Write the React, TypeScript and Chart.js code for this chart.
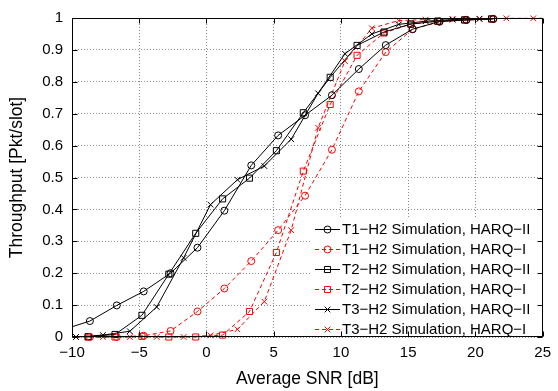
import React, { useEffect, useRef } from 'react';
import { Chart, registerables } from 'chart.js';

Chart.register(...registerables);

// SNR grids (dB)
const snrA = [-10.67, -8.67, -6.67, -4.67, -2.67, -0.67, 1.33, 3.33, 5.33, 7.33, 9.33, 11.33, 13.33, 15.33, 17.33, 19.33, 21.33];
const snrA2 = [-8.67, -6.67, -4.67, -2.67, -0.67, 1.33, 3.33, 5.33, 7.33, 9.33, 11.33, 13.33, 15.33, 17.33, 19.33, 21.33];
const snrB = [-8.8, -6.8, -4.8, -2.8, -0.8, 1.2, 3.2, 5.2, 7.2, 9.2, 11.2, 13.2, 15.2, 17.2, 19.2, 21.2];
const snrC = [-9.7, -7.7, -5.7, -3.7, -1.7, 0.3, 2.3, 4.3, 6.3, 8.3, 10.3, 12.3, 14.3, 16.3, 18.3, 20.3, 22.3, 24.3, 26.3];

// Throughput values
const t1HarqII = [0.023, 0.05, 0.099, 0.143, 0.2, 0.28, 0.396, 0.538, 0.632, 0.695, 0.758, 0.84, 0.915, 0.965, 0.989, 0.994, 0.997];
const t1HarqI = [0, 0, 0.004, 0.019, 0.08, 0.152, 0.238, 0.335, 0.443, 0.587, 0.77, 0.893, 0.965, 0.988, 0.994, 0.997];
const t2HarqII = [0.001, 0.008, 0.068, 0.197, 0.325, 0.433, 0.498, 0.584, 0.703, 0.814, 0.914, 0.956, 0.981, 0.99, 0.994, 0.997];
const t2HarqI = [0, 0, 0.002, 0, 0, 0.006, 0.08, 0.265, 0.52, 0.729, 0.883, 0.953, 0.981, 0.99, 0.994, 0.997];
const t3HarqII = [0, 0.006, 0.018, 0.094, 0.248, 0.415, 0.493, 0.536, 0.62, 0.764, 0.888, 0.95, 0.98, 0.99, 0.995, 0.997];
const t3HarqI = [0, 0, 0, 0, 0, 0.005, 0.024, 0.111, 0.335, 0.656, 0.865, 0.968, 0.992, 0.995, 0.997, 0.998, 0.999, 0.999, 0.999];

const seriesLabels = [
  'T1\u2212H2 Simulation, HARQ\u2212II',
  'T1\u2212H2 Simulation, HARQ\u2212I',
  'T2\u2212H2 Simulation, HARQ\u2212II',
  'T2\u2212H2 Simulation, HARQ\u2212I',
  'T3\u2212H2 Simulation, HARQ\u2212II',
  'T3\u2212H2 Simulation, HARQ\u2212I',
];

const xTickValues = [-10, -5, 0, 5, 10, 15, 20, 25];
const yTickValues = [0, 0.1, 0.2, 0.3, 0.4, 0.5, 0.6, 0.7, 0.8, 0.9, 1];

const FONT = '"Liberation Sans", Arial, Helvetica, sans-serif';
const RED = '#ff0000';
const BLACK = '#000000';
const DASH = [4, 3];
const TICK_SIZE = 15;
const LEGEND_SIZE = 15;
const TITLE_SIZE = 17.5;

const pts = (xs: number[], ys: number[]) => ys.map((y, i) => ({ x: xs[i], y }));

function drawMarker(ctx: CanvasRenderingContext2D, style: string, x: number, y: number, r: number) {
  ctx.beginPath();
  if (style === 'circle') {
    ctx.arc(x, y, r, 0, Math.PI * 2);
  } else if (style === 'rect') {
    const s = r * Math.SQRT1_2;
    ctx.rect(x - s, y - s, 2 * s, 2 * s);
  } else {
    const s = r * Math.SQRT1_2;
    ctx.moveTo(x - s, y - s);
    ctx.lineTo(x + s, y + s);
    ctx.moveTo(x + s, y - s);
    ctx.lineTo(x - s, y + s);
  }
  ctx.stroke();
}

const framePlugin = {
  id: 'frameAndLegend',
  afterDraw(chart: any) {
    const ctx: CanvasRenderingContext2D = chart.ctx;
    const { left, right, top, bottom } = chart.chartArea;
    ctx.save();
    // legend box
    const lx = 312, ly = 217;
    ctx.fillStyle = '#ffffff';
    ctx.fillRect(lx, ly, right - lx, bottom - ly);
    chart.data.datasets.forEach((ds: any, i: number) => {
      const y = 229.5 + i * 20;
      ctx.strokeStyle = ds.borderColor;
      ctx.lineWidth = 1;
      ctx.setLineDash(ds.borderDash || []);
      ctx.beginPath();
      ctx.moveTo(315, y);
      ctx.lineTo(340, y);
      ctx.stroke();
      ctx.setLineDash([]);
      drawMarker(ctx, ds.pointStyle, 327.5, y, ds.pointRadius);
      ctx.fillStyle = '#000';
      ctx.font = `${LEGEND_SIZE}px ${FONT}`;
      ctx.textBaseline = 'middle';
      ctx.textAlign = 'left';
      ctx.fillText(ds.label, 342, y + 0.5);
    });
    // frame
    ctx.strokeStyle = '#000';
    ctx.lineWidth = 1;
    ctx.setLineDash([]);
    const L = Math.round(left) + 0.5, R = Math.round(right) - 0.5, T = Math.round(top) + 0.5, B = Math.round(bottom) - 0.5;
    ctx.strokeRect(L, T, R - L, B - T);
    // inner ticks
    const xs = chart.scales.x, ys = chart.scales.y;
    const tl = 5;
    ctx.beginPath();
    xTickValues.forEach((v) => {
      const px = Math.round(xs.getPixelForValue(v)) + 0.5;
      ctx.moveTo(px, B);
      ctx.lineTo(px, B - tl);
      ctx.moveTo(px, T);
      ctx.lineTo(px, T + tl);
    });
    yTickValues.forEach((v) => {
      const py = Math.round(ys.getPixelForValue(v)) + 0.5;
      ctx.moveTo(L, py);
      ctx.lineTo(L + tl, py);
      ctx.moveTo(R, py);
      ctx.lineTo(R - tl, py);
    });
    ctx.stroke();
    ctx.restore();
  },
};

function makeDataset(label: string, xs: number[], ys: number[], color: string, dashed: boolean, style: string, r: number) {
  return {
    label,
    data: pts(xs, ys),
    borderColor: color,
    backgroundColor: 'rgba(0,0,0,0)',
    borderWidth: 1,
    borderDash: dashed ? DASH : [],
    pointStyle: style,
    pointRadius: r,
    pointBorderColor: color,
    pointBackgroundColor: 'rgba(0,0,0,0)',
    pointBorderWidth: 1,
    tension: 0,
    fill: false,
    clip: { left: 0, right: 0, top: 6, bottom: 6 },
  };
}

export default function App() {
  const ref = useRef<HTMLCanvasElement | null>(null);
  useEffect(() => {
    if (!ref.current) return;
    const chart = new Chart(ref.current, {
      type: 'line',
      data: {
        datasets: [
          makeDataset(seriesLabels[0], snrA, t1HarqII, BLACK, false, 'circle', 3.5),
          makeDataset(seriesLabels[1], snrA2, t1HarqI, RED, true, 'circle', 3.5),
          makeDataset(seriesLabels[2], snrB, t2HarqII, BLACK, false, 'rect', 4.3),
          makeDataset(seriesLabels[3], snrB, t2HarqI, RED, true, 'rect', 4.3),
          makeDataset(seriesLabels[4], snrC, t3HarqII, BLACK, false, 'crossRot', 4),
          makeDataset(seriesLabels[5], snrC, t3HarqI, RED, true, 'crossRot', 4),
        ] as any,
      },
      options: {
        responsive: false,
        animation: false,
        devicePixelRatio: 1,
        layout: { padding: { top: 13, right: 11, left: 0, bottom: 0 } },
        plugins: { legend: { display: false }, tooltip: { enabled: false } },
        scales: {
          x: {
            type: 'linear',
            min: -10,
            max: 25,
            afterFit: (s: any) => { s.height = 54; },
            afterBuildTicks: (s: any) => { s.ticks = xTickValues.map((v) => ({ value: v })); },
            ticks: {
              color: '#000',
              font: { family: FONT, size: TICK_SIZE },
              padding: 7,
              maxRotation: 0,
              callback: (v: any) => String(v).replace('-', '\u2212'),
            },
            grid: { color: '#8a8a8a', lineWidth: 1, drawTicks: false },
            border: { display: false, dash: [1, 2] },
            title: {
              display: true,
              text: 'Average SNR [dB]',
              color: '#000',
              font: { family: FONT, size: TITLE_SIZE },
              padding: { top: 0, bottom: 1 },
            },
          },
          y: {
            type: 'linear',
            min: 0,
            max: 1,
            afterFit: (s: any) => { s.width = 72; },
            afterBuildTicks: (s: any) => { s.ticks = yTickValues.map((v) => ({ value: v })); },
            ticks: {
              color: '#000',
              font: { family: FONT, size: TICK_SIZE },
              padding: 9,
              callback: (v: any) => String(Number(Number(v).toFixed(1))),
            },
            grid: { color: '#8a8a8a', lineWidth: 1, drawTicks: false },
            border: { display: false, dash: [1, 2] },
            title: {
              display: true,
              text: 'Throughput [Pkt/slot]',
              color: '#000',
              font: { family: FONT, size: TITLE_SIZE },
              padding: { top: 6.5, bottom: 0 },
            },
          },
        },
      } as any,
      plugins: [framePlugin],
    });
    return () => chart.destroy();
  }, []);
  return (
    <div style={{ position: 'absolute', left: 0, top: 0, width: 558, height: 391, background: '#fff' }}>
      <canvas ref={ref} width={558} height={391} style={{ width: 558, height: 391, display: 'block' }} />
    </div>
  );
}
